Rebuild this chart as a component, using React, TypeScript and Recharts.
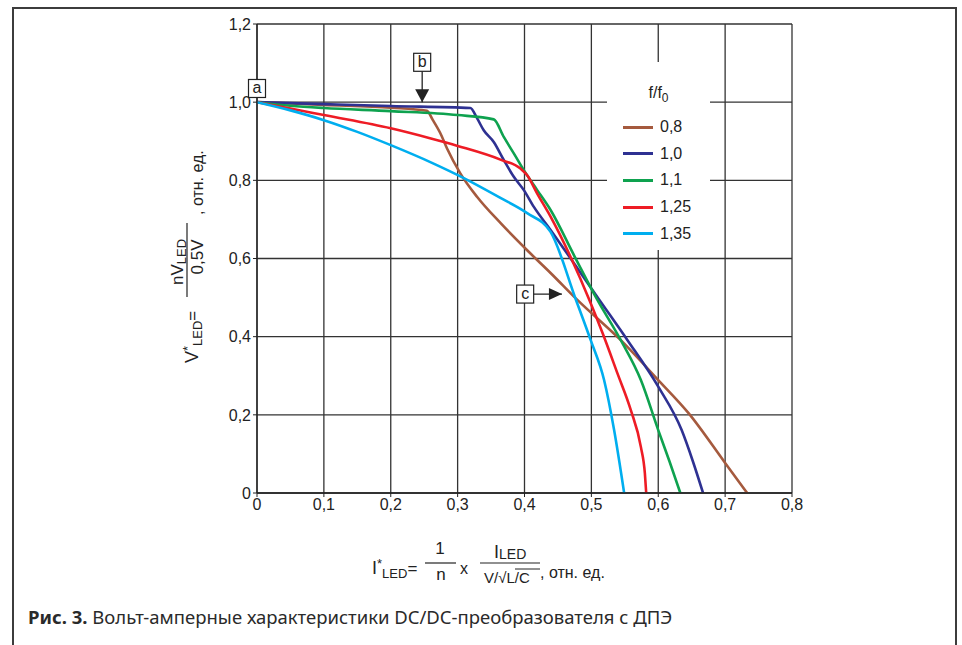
import { LineChart, Line, XAxis, YAxis, CartesianGrid, ReferenceDot, ReferenceLine, Legend } from "recharts";

// axis ticks
const xTicks = [0, 0.1, 0.2, 0.3, 0.4, 0.5, 0.6, 0.7, 0.8];
const yTicks = [0, 0.2, 0.4, 0.6, 0.8, 1.0, 1.2];

// f/f0 = 0,8
const curve08 = [
  { x: 0, y: 1.0 }, { x: 0.1, y: 0.993 }, { x: 0.2, y: 0.986 }, { x: 0.254, y: 0.978 },
  { x: 0.263, y: 0.954 }, { x: 0.274, y: 0.921 }, { x: 0.284, y: 0.882 }, { x: 0.304, y: 0.818 },
  { x: 0.329, y: 0.758 }, { x: 0.364, y: 0.691 }, { x: 0.404, y: 0.621 }, { x: 0.439, y: 0.563 },
  { x: 0.479, y: 0.494 }, { x: 0.544, y: 0.391 }, { x: 0.6, y: 0.289 }, { x: 0.645, y: 0.205 },
  { x: 0.7, y: 0.077 }, { x: 0.733, y: 0 },
];
// f/f0 = 1,0
const curve10 = [
  { x: 0, y: 1.0 }, { x: 0.1, y: 0.995 }, { x: 0.2, y: 0.99 }, { x: 0.319, y: 0.985 },
  { x: 0.329, y: 0.959 }, { x: 0.339, y: 0.928 }, { x: 0.354, y: 0.898 }, { x: 0.369, y: 0.852 },
  { x: 0.384, y: 0.809 }, { x: 0.399, y: 0.775 }, { x: 0.414, y: 0.732 }, { x: 0.439, y: 0.673 },
  { x: 0.475, y: 0.585 }, { x: 0.512, y: 0.494 }, { x: 0.554, y: 0.391 }, { x: 0.6, y: 0.272 },
  { x: 0.635, y: 0.161 }, { x: 0.652, y: 0.08 }, { x: 0.667, y: 0 },
];
// f/f0 = 1,1
const curve11 = [
  { x: 0, y: 1.0 }, { x: 0.05, y: 0.991 }, { x: 0.1, y: 0.985 }, { x: 0.2, y: 0.977 },
  { x: 0.3, y: 0.967 }, { x: 0.354, y: 0.956 }, { x: 0.369, y: 0.911 }, { x: 0.384, y: 0.869 },
  { x: 0.399, y: 0.826 }, { x: 0.419, y: 0.775 }, { x: 0.439, y: 0.724 }, { x: 0.475, y: 0.605 },
  { x: 0.509, y: 0.494 }, { x: 0.544, y: 0.391 }, { x: 0.574, y: 0.289 }, { x: 0.6, y: 0.161 },
  { x: 0.617, y: 0.08 }, { x: 0.633, y: 0 },
];
// f/f0 = 1,25
const curve125 = [
  { x: 0, y: 1.0 }, { x: 0.05, y: 0.984 }, { x: 0.1, y: 0.967 }, { x: 0.2, y: 0.933 },
  { x: 0.26, y: 0.907 }, { x: 0.3, y: 0.888 }, { x: 0.364, y: 0.853 }, { x: 0.394, y: 0.83 },
  { x: 0.404, y: 0.813 }, { x: 0.419, y: 0.766 }, { x: 0.439, y: 0.707 }, { x: 0.47, y: 0.6 },
  { x: 0.497, y: 0.494 }, { x: 0.517, y: 0.408 }, { x: 0.539, y: 0.306 }, { x: 0.559, y: 0.212 },
  { x: 0.574, y: 0.118 }, { x: 0.58, y: 0.05 }, { x: 0.582, y: 0 },
];
// f/f0 = 1,35
const curve135 = [
  { x: 0, y: 1.0 }, { x: 0.05, y: 0.979 }, { x: 0.1, y: 0.954 }, { x: 0.15, y: 0.924 },
  { x: 0.2, y: 0.89 }, { x: 0.26, y: 0.846 }, { x: 0.31, y: 0.805 }, { x: 0.364, y: 0.755 },
  { x: 0.404, y: 0.716 }, { x: 0.439, y: 0.668 }, { x: 0.477, y: 0.494 }, { x: 0.499, y: 0.391 },
  { x: 0.519, y: 0.289 }, { x: 0.534, y: 0.161 }, { x: 0.549, y: 0 },
];

const seriesNames = ["0,8", "1,0", "1,1", "1,25", "1,35"];
const seriesData = [curve08, curve10, curve11, curve125, curve135];
const seriesColors = ["#a55a3e", "#2e3192", "#0ea24f", "#ee1c25", "#00aeef"];

// annotation points (box centres and arrow tips)
const markA = { x: 0, y: 1.035 };
const markB = { x: 0.247, y: 1.102 };
const tipB = { x: 0.247, y: 1.0 };
const markC = { x: 0.401, y: 0.509 };
const tipC = { x: 0.456, y: 0.509 };

const FONT = "'Liberation Sans', Arial, sans-serif";
const INK = "#222";

const fmt = (v: number) => (v === 0 ? "0" : v.toFixed(1).replace(".", ","));

function LetterBox(props: any) {
  const { cx, cy, letter } = props;
  return (
    <g>
      <rect x={cx - 8.5} y={cy - 9} width={17} height={18} fill="#fff" stroke={INK} strokeWidth={1.2} />
      <text x={cx} y={cy + 5} textAnchor="middle" fontFamily={FONT} fontSize={16} fill={INK}>
        {letter}
      </text>
    </g>
  );
}

function ArrowDown(props: any) {
  const { cx, cy } = props;
  return <polygon points={`${cx - 7},${cy - 13} ${cx + 7},${cy - 13} ${cx},${cy}`} fill={INK} />;
}

function ArrowRight(props: any) {
  const { cx, cy } = props;
  return <polygon points={`${cx - 13},${cy - 6} ${cx - 13},${cy + 6} ${cx},${cy}`} fill={INK} />;
}

function LegendBox() {
  return (
    <div style={{ background: "#fff", width: 103, height: 188, position: "relative", fontFamily: FONT, color: INK }}>
      <div style={{ position: "absolute", left: 0, width: 103, top: 22, textAlign: "center", fontSize: 16 }}>
        f/f<sub style={{ fontSize: 12, verticalAlign: "-4px" }}>0</sub>
      </div>
      {seriesNames.map((n, i) => (
        <div key={n} style={{ position: "absolute", left: 16, top: 55 + i * 26.7, height: 20, display: "flex", alignItems: "center" }}>
          <div style={{ width: 30, height: 3, background: seriesColors[i] }} />
          <span style={{ marginLeft: 7, fontSize: 16 }}>{n}</span>
        </div>
      ))}
    </div>
  );
}

function Formulas() {
  return (
    <svg width={962} height={645} style={{ position: "absolute", left: 0, top: 0, pointerEvents: "none" }}>
      {/* x axis title */}
      <g fontFamily={FONT} fill={INK}>
        <text x={372} y={574} fontSize={18}>
          I<tspan fontSize={13} dy={-6}>*</tspan>
          <tspan fontSize={13} dy={10}>LED</tspan>
          <tspan fontSize={17} dy={-4}>=</tspan>
        </text>
        <text x={440} y={554} fontSize={17} textAnchor="middle">1</text>
        <line x1={425} x2={456} y1={563} y2={563} stroke={INK} strokeWidth={1.2} />
        <text x={441} y={580} fontSize={17} textAnchor="middle">n</text>
        <text x={464} y={574} fontSize={16} textAnchor="middle">x</text>
        <text x={494} y={558} fontSize={18}>
          I<tspan fontSize={14} dy={1}>LED</tspan>
        </text>
        <line x1={480} x2={540} y1={563} y2={563} stroke={INK} strokeWidth={1.2} />
        <text x={484} y={583} fontSize={15}>V/√L/C</text>
        <line x1={515} x2={540} y1={569} y2={569} stroke={INK} strokeWidth={1} />
        <text x={540} y={578} fontSize={16}>, отн. ед.</text>
      </g>
      {/* y axis title */}
      <g fontFamily={FONT} fill={INK} transform="translate(185,363) rotate(-90)">
        <text x={0} y={13} fontSize={18}>
          V<tspan fontSize={13} dy={-6}>*</tspan>
          <tspan fontSize={13} dy={10}>LED</tspan>
          <tspan fontSize={17} dy={-4}>=</tspan>
        </text>
        <text x={101} y={-2} fontSize={17} textAnchor="middle">
          nV<tspan fontSize={13} dy={3}>LED</tspan>
        </text>
        <line x1={66} x2={140} y1={2} y2={2} stroke={INK} strokeWidth={1.2} />
        <text x={106} y={18} fontSize={17} textAnchor="middle">0,5V</text>
        <text x={148} y={18} fontSize={16}>, отн. ед.</text>
      </g>
    </svg>
  );
}

export default function App() {
  return (
    <div style={{ position: "absolute", left: 0, top: 0, width: 962, height: 645, background: "#fff", overflow: "hidden" }}>
      <div
        style={{
          position: "absolute", left: 12, top: 7, width: 945, height: 638, boxSizing: "border-box",
          borderTop: "2px solid #3c3c3c", borderLeft: "2px solid #3c3c3c", borderRight: "2px solid #3c3c3c",
        }}
      />
      <div style={{ position: "absolute", left: 0, top: 0 }}>
        <LineChart width={962} height={645} margin={{ top: 24, right: 170, bottom: 122, left: 197 }}>
          <CartesianGrid stroke="#333" strokeWidth={1.3} />
          <XAxis
            dataKey="x" type="number" domain={[0, 0.8]} ticks={xTicks} tickFormatter={fmt} height={30}
            allowDataOverflow axisLine={{ stroke: INK, strokeWidth: 1.3 }} tickLine={{ stroke: INK }} tickSize={4}
            tick={{ fill: INK, fontSize: 16, fontFamily: FONT }}
          />
          <YAxis
            dataKey="y" type="number" domain={[0, 1.2]} ticks={yTicks} tickFormatter={fmt} width={60}
            allowDataOverflow axisLine={{ stroke: INK, strokeWidth: 1.3 }} tickLine={{ stroke: INK }} tickSize={4}
            tick={{ fill: INK, fontSize: 16, fontFamily: FONT }}
          />
          <Legend
            layout="vertical" align="center" verticalAlign="middle" content={() => <LegendBox />}
            wrapperStyle={{ left: 607, top: 62, width: 103, height: 188 }}
          />
          {seriesData.map((d, i) => (
            <Line
              key={seriesNames[i]} data={d} dataKey="y" name={seriesNames[i]} type="monotone"
              stroke={seriesColors[i]} strokeWidth={2.6} dot={false} isAnimationActive={false}
            />
          ))}
          <ReferenceLine segment={[markB, tipB]} stroke={INK} strokeWidth={1.3} />
          <ReferenceLine segment={[markC, tipC]} stroke={INK} strokeWidth={1.3} />
          <ReferenceDot x={tipB.x} y={tipB.y} shape={ArrowDown} />
          <ReferenceDot x={tipC.x} y={tipC.y} shape={ArrowRight} />
          <ReferenceDot x={markA.x} y={markA.y} shape={(p: any) => <LetterBox {...p} letter="a" />} />
          <ReferenceDot x={markB.x} y={markB.y} shape={(p: any) => <LetterBox {...p} letter="b" />} />
          <ReferenceDot x={markC.x} y={markC.y} shape={(p: any) => <LetterBox {...p} letter="c" />} />
        </LineChart>
      </div>
      <Formulas />
      <div style={{ position: "absolute", left: 28, top: 604, fontFamily: "'Noto Sans', sans-serif", fontSize: 18.5, color: "#2a2a2a", whiteSpace: "nowrap" }}>
        <b>Рис. 3.</b> Вольт-амперные характеристики DC/DC-преобразователя с ДПЭ
      </div>
    </div>
  );
}
